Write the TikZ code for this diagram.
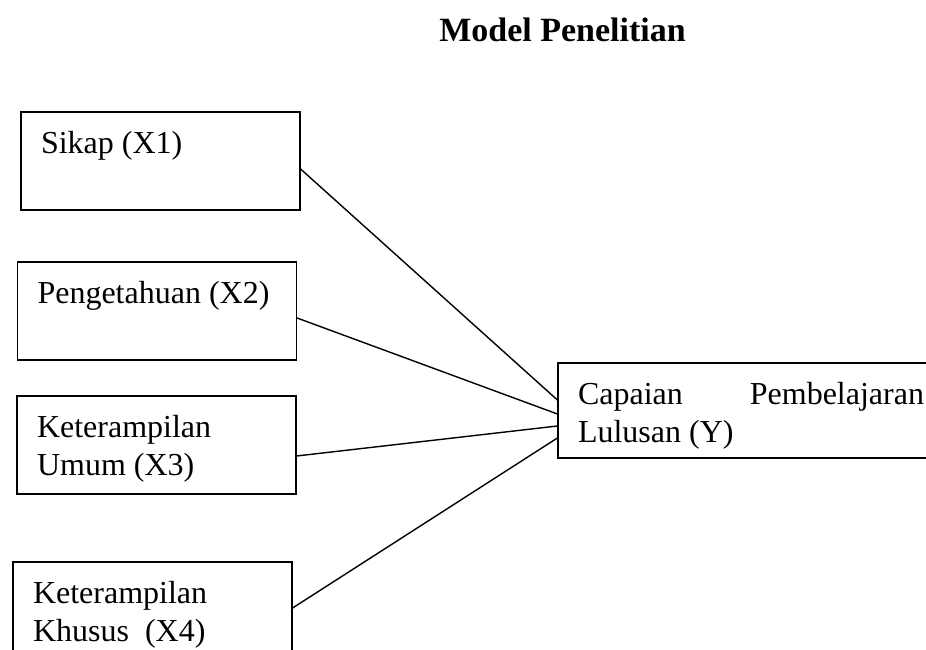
\documentclass[tikz,border=0pt]{standalone}
\usepackage{fontspec}
\setmainfont{Liberation Serif}
\usepackage{tikz}
\tikzstyle{line} = [draw, line width=1.4pt]
\tikzstyle{varBlock} = [draw, rectangle, line width=1.2pt, inner xsep=20pt,
    inner ysep=14.5pt, font=\fontsize{32}{38}\selectfont]
\tikzstyle{titleText} = [font=\fontsize{34}{40}\selectfont\bfseries, anchor=base]
\newcommand{\vartext}[1]{\parbox[c][69pt][t]{239pt}{\strut #1}}

\begin{document}
\begin{tikzpicture}[x=1pt, y=1pt]
      \useasboundingbox (0,0) rectangle (926,650);
      \clip (0,0) rectangle (926,650);

      % Place nodes
      \node [titleText] (title) at (562.5,608) {Model Penelitian};

      \node [varBlock] (x1) at (160.5,489) {\vartext{Sikap (X1)}};
      \node [varBlock, below of=x1, node distance=150pt, xshift=-3.5pt] (x2) {\vartext{Pengetahuan (X2)}};
      \node [varBlock, below of=x2, node distance=134pt, xshift=-0.5pt] (x3) {\vartext{Keterampilan\\Umum (X3)}};
      \node [varBlock, below of=x3, node distance=166pt, xshift=-4pt] (x4) {\vartext{Keterampilan\\Khusus \ (X4)}};

      \node [varBlock] (y) at (751,239.5)
        {\parbox[c][66pt][t]{346pt}{\strut Capaian\hfill Pembelajaran\\Lulusan (Y)}};

      % Connectors
      \path [line] ([yshift=-8pt]x1.east) -- ([yshift=10.5pt]y.west);
      \path [line] ([yshift=-7pt]x2.east) -- ([yshift=-3.5pt]y.west);
      \path [line] ([yshift=-11pt]x3.east) -- ([yshift=-15.5pt]y.west);
      \path [line] ([yshift=3pt]x4.east) -- ([yshift=-27.5pt]y.west);

\end{tikzpicture}
\end{document}
